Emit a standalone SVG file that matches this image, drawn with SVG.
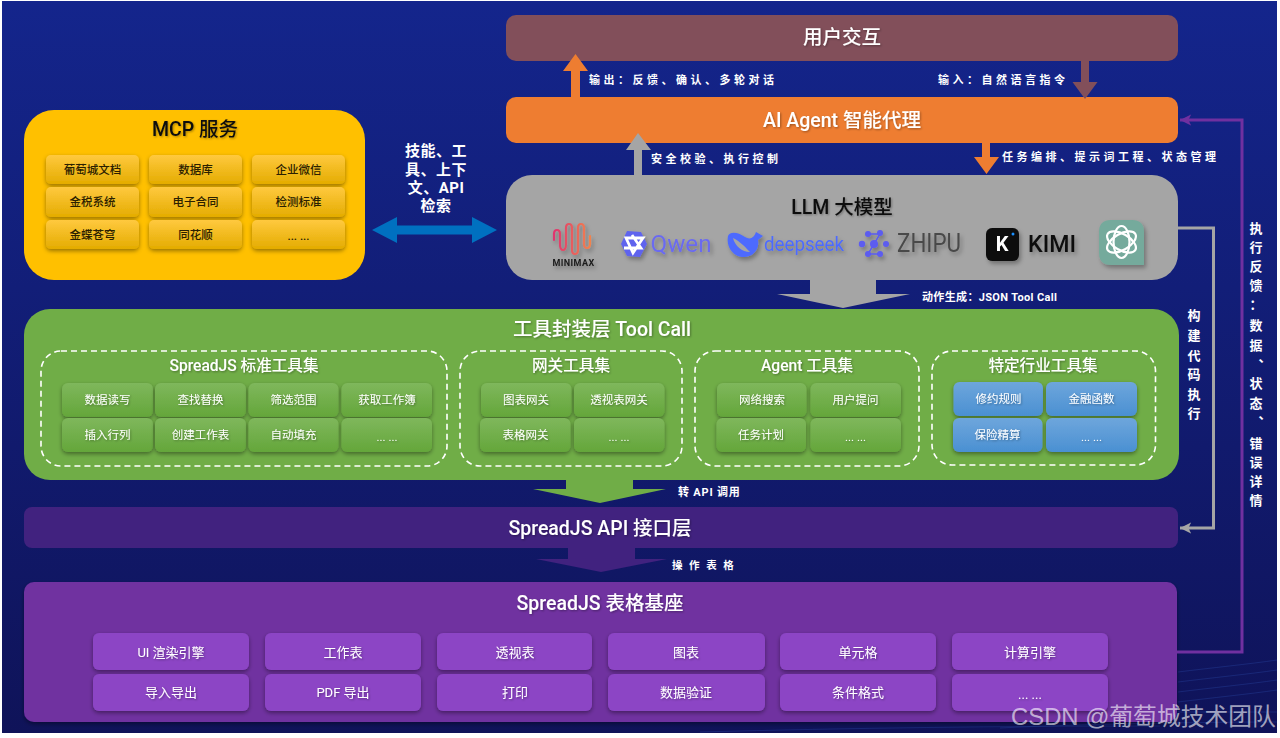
<svg xmlns="http://www.w3.org/2000/svg" width="1280" height="738" viewBox="0 0 1280 738">
<style>
text{font-family:"Roboto","Noto Sans CJK SC","Noto Sans",sans-serif;text-anchor:middle;dominant-baseline:central}
.t{font-size:19.500px;font-weight:500;fill:#fff;filter:url(#ts)}
.d{fill:#111}
.s{font-size:15.600px;font-weight:500;fill:#fff;filter:url(#ts)}
.b{font-size:11.500px;font-weight:400;fill:#fff;filter:url(#ts)}
.p{font-size:13px}
.m{font-size:11.500px;font-weight:500;fill:#2a2000}
.l{font-size:11px;font-weight:700;fill:#fff;text-anchor:start;letter-spacing:3.500px}
.l2{font-size:11px;font-weight:700;fill:#fff;text-anchor:start}
.v{font-size:13px;font-weight:700;fill:#fff}
.dash{fill:none;stroke:#fff;stroke-width:1.6;stroke-dasharray:6 4}
.gb{fill:url(#gg);filter:url(#sh)}
.yb{fill:url(#yg);filter:url(#sh)}
.bb{fill:url(#bg2);filter:url(#sh)}
.pb{fill:#8c45c5;filter:url(#sh)}
</style>
<defs>
<linearGradient id="bg" x1="0" y1="0" x2="0" y2="1"><stop offset="0" stop-color="#14258c"/><stop offset="1" stop-color="#0f1359"/></linearGradient>
<linearGradient id="gg" x1="0" y1="0" x2="0" y2="1"><stop offset="0" stop-color="#7fb75c"/><stop offset="1" stop-color="#64a63a"/></linearGradient>
<linearGradient id="yg" x1="0" y1="0" x2="0" y2="1"><stop offset="0" stop-color="#ffc93f"/><stop offset="1" stop-color="#e4ac00"/></linearGradient>
<linearGradient id="bg2" x1="0" y1="0" x2="0" y2="1"><stop offset="0" stop-color="#6ea6dc"/><stop offset="1" stop-color="#4a90d2"/></linearGradient>
<linearGradient id="wv" x1="0" y1="0" x2="1" y2="0"><stop offset="0" stop-color="#e0356f"/><stop offset="1" stop-color="#f0824e"/></linearGradient>
<filter id="sh" x="-10%" y="-15%" width="120%" height="140%"><feDropShadow dx="0" dy="2" stdDeviation="2" flood-color="#000" flood-opacity=".4"/></filter>
<filter id="ts" x="-10%" y="-20%" width="120%" height="150%"><feDropShadow dx="1" dy="1" stdDeviation="1" flood-color="#000" flood-opacity=".35"/></filter>
<filter id="ls" x="-20%" y="-20%" width="150%" height="150%"><feDropShadow dx="2" dy="3" stdDeviation="2" flood-color="#000" flood-opacity=".3"/></filter>
<marker id="ag" viewBox="0 0 5 6" preserveAspectRatio="none" markerWidth="3.700" markerHeight="3.700" refX="5" refY="3" orient="auto"><path d="M0 0L5 3L0 6L1.200 3Z" fill="#a5a5a5"/></marker>
<marker id="ap" viewBox="0 0 5 6" preserveAspectRatio="none" markerWidth="3.700" markerHeight="3.700" refX="5" refY="3" orient="auto"><path d="M0 0L5 3L0 6L1.200 3Z" fill="#7030a0"/></marker>
</defs>

<rect width="1280" height="738" fill="#fff"/>
<rect x="2" y="1" width="1275" height="732" fill="url(#bg)"/>
<g id="bg-lines" fill="none" stroke="#2b4aa8" stroke-width=".7" opacity=".5">
<path d="M1178 672C1210 668 1250 664 1277 660M1178 682C1210 678 1250 674 1277 670M1178 692C1210 688 1250 684 1277 680M1178 702C1210 698 1250 694 1277 690M1178 712H1277M1000 728C1080 724 1200 722 1277 722M700 732C850 728 1000 726 1160 726"/>
</g>

<g id="user"><rect x="506" y="15" width="672" height="46" rx="10" fill="#824f5a"/><text class="t" x="842" y="37">用户交互</text></g>
<g id="agent"><rect x="506" y="97" width="672" height="46" rx="10" fill="#ee7d31"/><text class="t" x="842" y="120">AI Agent 智能代理</text></g>

<g id="llm">
<rect x="506" y="175" width="672" height="105" rx="26" fill="#a5a5a5"/>
<text class="t d" x="842" y="207">LLM 大模型</text>
<g id="logo-minimax" filter="url(#ls)">
<path d="M554 240V234Q554 230 557 230T560 234V244Q560 250 563 250T566 244V228Q566 224 569 224T572 228V250Q572 254 575 254T578 250V228Q578 224 581 224T584 228V244Q584 248 587 248T590 244V236" fill="none" stroke="url(#wv)" stroke-width="2.200" stroke-linecap="round"/>
<text x="573.500" y="263" font-size="9" font-weight="700" fill="#1a1a1a" letter-spacing=".4">MINIMAX</text>
</g>
<g id="logo-qwen" filter="url(#ls)">
<path d="M627 231L641 232L647 244L640 257L627 256L621 244Z" fill="#5f63ee"/>
<path d="M626 238H643L633 253ZM624 248H641L632 235" fill="none" stroke="#fff" stroke-width="2.800"/>
<text x="681" y="244" font-size="23" fill="#6b6bf0" textLength="61" lengthAdjust="spacingAndGlyphs">Qwen</text>
</g>
<g id="logo-deepseek" filter="url(#ls)">
<path d="M728 236C730 231 738 232 745 237C750 240 754 238 756 232L763 236L758 240C760 250 752 258 742 257C733 256 726 247 728 236Z" fill="#4d6bfe"/>
<path d="M733 238C735 246 742 252 750 252C746 248 741 242 733 238Z" fill="#a5a5a5"/>
<text x="804" y="244" font-size="21" fill="#4d6bfe" textLength="80" lengthAdjust="spacingAndGlyphs">deepseek</text>
</g>
<g id="logo-zhipu" filter="url(#ls)">
<path d="M868 234H880L868 254H880" fill="none" stroke="#5a5cf0" stroke-width="1.500"/>
<g fill="#5b5bf0"><circle cx="868" cy="234" r="3"/><circle cx="880" cy="233" r="3"/><circle cx="862" cy="244" r="3.200"/><circle cx="874" cy="244" r="4"/><circle cx="886" cy="244" r="3"/><circle cx="868" cy="254" r="3"/><circle cx="880" cy="254" r="3"/></g>
<text x="929" y="243" font-size="26" fill="#4a4a4a" textLength="64" lengthAdjust="spacingAndGlyphs">ZHIPU</text>
</g>
<g id="logo-kimi" filter="url(#ls)">
<rect x="986" y="228" width="33" height="33" rx="6" fill="#0a0a0a"/>
<circle cx="1013" cy="234" r="1.500" fill="#1e90ff"/>
<text x="1002" y="244" font-size="20" font-weight="700" fill="#fff">K</text>
<text x="1052" y="244" font-size="23" font-weight="500" fill="#111" textLength="48" lengthAdjust="spacingAndGlyphs">KIMI</text>
</g>
<g id="logo-gpt" filter="url(#ls)">
<path d="M1111 220H1132Q1144 220 1144 232V265H1111Q1099 265 1099 253V232Q1099 220 1111 220Z" fill="#74aa9c"/>
<g fill="none" stroke="#fff" stroke-width="2.200">
<ellipse cx="1121.500" cy="242" rx="8" ry="16"/>
<ellipse cx="1121.500" cy="242" rx="8" ry="16" transform="rotate(60 1121.500 242)"/>
<ellipse cx="1121.500" cy="242" rx="8" ry="16" transform="rotate(-60 1121.500 242)"/>
</g>
</g>
</g>

<g id="mcp">
<rect x="24" y="110" width="341" height="170" rx="30" fill="#ffc000"/>
<text class="t d" x="195" y="129">MCP 服务</text>
<g id="mcp-items">
<rect class="yb" x="46" y="155" width="93" height="29" rx="5"/><text class="m" x="92.500" y="169.500">葡萄城文档</text>
<rect class="yb" x="149" y="155" width="93" height="29" rx="5"/><text class="m" x="195.500" y="169.500">数据库</text>
<rect class="yb" x="252" y="155" width="93" height="29" rx="5"/><text class="m" x="298.500" y="169.500">企业微信</text>
<rect class="yb" x="46" y="187" width="93" height="30" rx="5"/><text class="m" x="92.500" y="202">金税系统</text>
<rect class="yb" x="149" y="187" width="93" height="30" rx="5"/><text class="m" x="195.500" y="202">电子合同</text>
<rect class="yb" x="252" y="187" width="93" height="30" rx="5"/><text class="m" x="298.500" y="202">检测标准</text>
<rect class="yb" x="46" y="220" width="93" height="29" rx="5"/><text class="m" x="92.500" y="234.500">金蝶苍穹</text>
<rect class="yb" x="149" y="220" width="93" height="29" rx="5"/><text class="m" x="195.500" y="234.500">同花顺</text>
<rect class="yb" x="252" y="220" width="93" height="29" rx="5"/><text class="m" x="298.500" y="236">... ...</text>
</g>
</g>

<g id="tool-layer">
<rect x="24" y="309" width="1155" height="171" rx="26" fill="#70ad47"/>
<text class="t" x="602" y="329">工具封装层 Tool Call</text>
<g id="set-standard">
<rect class="dash" x="41" y="351" width="406" height="115" rx="20"/>
<text class="s" x="244" y="366">SpreadJS 标准工具集</text>
<rect class="gb" x="62" y="383" width="91" height="34" rx="6"/><text class="b" x="107.500" y="400">数据读写</text>
<rect class="gb" x="155" y="383" width="91" height="34" rx="6"/><text class="b" x="200.500" y="400">查找替换</text>
<rect class="gb" x="248.500" y="383" width="90" height="34" rx="6"/><text class="b" x="293.500" y="400">筛选范围</text>
<rect class="gb" x="341.500" y="383" width="90.500" height="34" rx="6"/><text class="b" x="387" y="400">获取工作簿</text>
<rect class="gb" x="62" y="418" width="91" height="34" rx="6"/><text class="b" x="107.500" y="435">插入行列</text>
<rect class="gb" x="155" y="418" width="91" height="34" rx="6"/><text class="b" x="200.500" y="435">创建工作表</text>
<rect class="gb" x="248.500" y="418" width="90" height="34" rx="6"/><text class="b" x="293.500" y="435">自动填充</text>
<rect class="gb" x="341.500" y="418" width="90.500" height="34" rx="6"/><text class="b" x="387" y="437">... ...</text>
</g>
<g id="set-gateway">
<rect class="dash" x="460" y="351" width="222" height="115" rx="20"/>
<text class="s" x="571" y="366">网关工具集</text>
<rect class="gb" x="481" y="383" width="90.500" height="34" rx="6"/><text class="b" x="526" y="400">图表网关</text>
<rect class="gb" x="574" y="383" width="90.500" height="34" rx="6"/><text class="b" x="619" y="400">透视表网关</text>
<rect class="gb" x="480" y="418" width="90.500" height="34" rx="6"/><text class="b" x="525.500" y="435">表格网关</text>
<rect class="gb" x="574" y="418" width="90.500" height="34" rx="6"/><text class="b" x="619" y="437">... ...</text>
</g>
<g id="set-agent">
<rect class="dash" x="695" y="351" width="224" height="115" rx="20"/>
<text class="s" x="807" y="366">Agent 工具集</text>
<rect class="gb" x="717" y="383" width="89.500" height="34" rx="6"/><text class="b" x="762" y="400">网络搜索</text>
<rect class="gb" x="810.500" y="383" width="90.500" height="34" rx="6"/><text class="b" x="855.500" y="400">用户提问</text>
<rect class="gb" x="716.500" y="418" width="89.500" height="34" rx="6"/><text class="b" x="761" y="435">任务计划</text>
<rect class="gb" x="810.500" y="418" width="90.500" height="34" rx="6"/><text class="b" x="855.500" y="437">... ...</text>
</g>
<g id="set-industry">
<rect class="dash" x="932" y="351" width="223.500" height="114" rx="20"/>
<text class="s" x="1043" y="366">特定行业工具集</text>
<rect class="bb" x="953.500" y="382" width="89.500" height="34" rx="6"/><text class="b" x="998.500" y="399">修约规则</text>
<rect class="bb" x="1046" y="382" width="91" height="34" rx="6"/><text class="b" x="1091.500" y="399">金融函数</text>
<rect class="bb" x="953" y="418" width="89.500" height="34" rx="6"/><text class="b" x="997.500" y="435">保险精算</text>
<rect class="bb" x="1046" y="418" width="91" height="34" rx="6"/><text class="b" x="1091.500" y="437">... ...</text>
</g>
</g>

<g id="api-layer"><rect x="24" y="507" width="1154" height="41" rx="8" fill="#41227f"/><text class="t" x="600" y="528">SpreadJS API 接口层</text></g>

<g id="base-layer">
<rect x="24" y="582" width="1153" height="140" rx="10" fill="#7030a0" filter="url(#sh)"/>
<text class="t" x="600" y="603">SpreadJS 表格基座</text>
<g id="base-items">
<rect class="pb" x="93" y="633" width="156" height="37" rx="6"/><text class="b p" x="171" y="652">UI 渲染引擎</text>
<rect class="pb" x="265" y="633" width="156" height="37" rx="6"/><text class="b p" x="343" y="652">工作表</text>
<rect class="pb" x="437" y="633" width="155" height="37" rx="6"/><text class="b p" x="515" y="652">透视表</text>
<rect class="pb" x="608" y="633" width="157" height="37" rx="6"/><text class="b p" x="686" y="652">图表</text>
<rect class="pb" x="780" y="633" width="156" height="37" rx="6"/><text class="b p" x="858" y="652">单元格</text>
<rect class="pb" x="952" y="633" width="156" height="37" rx="6"/><text class="b p" x="1030" y="652">计算引擎</text>
<rect class="pb" x="93" y="674" width="156" height="37" rx="6"/><text class="b p" x="171" y="692">导入导出</text>
<rect class="pb" x="265" y="674" width="156" height="37" rx="6"/><text class="b p" x="343" y="692">PDF 导出</text>
<rect class="pb" x="437" y="674" width="155" height="37" rx="6"/><text class="b p" x="515" y="692">打印</text>
<rect class="pb" x="608" y="674" width="157" height="37" rx="6"/><text class="b p" x="686" y="692">数据验证</text>
<rect class="pb" x="780" y="674" width="156" height="37" rx="6"/><text class="b p" x="858" y="692">条件格式</text>
<rect class="pb" x="952" y="674" width="156" height="37" rx="6"/><text class="b p" x="1030" y="694">... ...</text>
</g>
</g>

<g id="connectors">
<path d="M1178 228H1213.500V528H1180" fill="none" stroke="#a5a5a5" stroke-width="3" marker-end="url(#ag)"/>
<path d="M1177 652H1242V120H1180" fill="none" stroke="#7030a0" stroke-width="3" marker-end="url(#ap)"/>
<path d="M571 97V71H563L575.500 54L588 71H580V97Z" fill="#ee7d31"/>
<path d="M1081 61V82H1072.500L1085 99L1097.500 82H1089V61Z" fill="#824f5a"/>
<path d="M634 175V150H626L638 133L651 150H642V175Z" fill="#a5a5a5"/>
<path d="M982 143V157H974L986.500 174L999 157H990V143Z" fill="#ee7d31"/>
<path d="M810 280V294H777L843 308L910 294H876V280Z" fill="#a5a5a5"/>
<path d="M566 480V489H533L600 503L666 489H633V480Z" fill="#70ad47"/>
<path d="M568 548V559H536L601 572L667 559H635V548Z" fill="#41227f"/>
<path d="M372 230L397 217V225.500H472V217L497 230L472 243V234.500H397V243Z" fill="#0070c0"/>
<text class="l" x="589" y="80">输出：反馈、确认、多轮对话</text>
<text class="l" x="938" y="80">输入：自然语言指令</text>
<text class="l" x="651" y="159">安全校验、执行控制</text>
<text class="l" x="1002" y="157">任务编排、提示词工程、状态管理</text>
<text class="l2" x="922" y="297" style="letter-spacing:.35px">动作生成：JSON Tool Call</text>
<text class="l2" x="678" y="492" style="letter-spacing:.8px">转 API 调用</text>
<text class="l" x="672" y="565" style="font-size:10.500px;letter-spacing:2px">操 作 表 格</text>
<text class="v" x="1194 1194 1194 1194 1194 1194" y="315 335 355 374 394 413">构建代码执行</text>
<text class="v" x="1256 1256 1256 1256 1256 1256 1256 1265 1256 1256 1265 1256 1256 1256 1256" y="228 247 266 285 304 325 345 356 383 403 413 443 462 481 500">执行反馈：数据、状态、错误详情</text>
<g font-size="15" font-weight="700" fill="#fff" style="letter-spacing:.5px">
<text x="436" y="151">技能、工</text><text x="436" y="170">具、上下</text><text x="436" y="188">文、API</text><text x="436" y="206">检索</text>
</g>
</g>

<text x="1143.500" y="716" font-size="23.800" fill="#fff" fill-opacity=".62" style="font-family:'Liberation Sans','Noto Sans CJK SC',sans-serif">CSDN @葡萄城技术团队</text>
</svg>
